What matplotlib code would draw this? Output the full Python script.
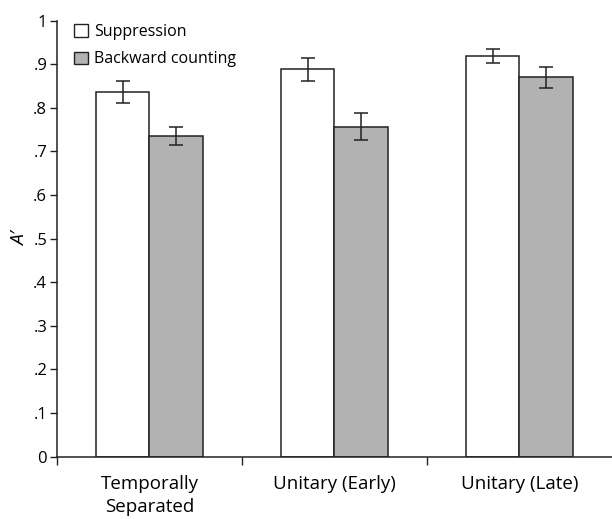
import matplotlib.pyplot as plt
import numpy as np
from matplotlib.patches import Patch

plt.rcParams['font.family'] = ['Open Sans', 'DejaVu Sans']

categories = ['Temporally\nSeparated', 'Unitary (Early)', 'Unitary (Late)']
supp = [0.837, 0.888, 0.918]
supp_err = [0.025, 0.026, 0.016]
back = [0.735, 0.757, 0.870]
back_err = [0.021, 0.030, 0.024]
yticks = [0, .1, .2, .3, .4, .5, .6, .7, .8, .9, 1]
ylabels = ['0', '.1', '.2', '.3', '.4', '.5', '.6', '.7', '.8', '.9', '1']

fig = plt.figure(figsize=(6.12, 5.19), dpi=100)
ax = fig.add_axes([0.093, 0.120, 0.907, 0.8405])

x = np.arange(len(categories))
w = 0.29
ax.bar(x - w/2, supp, w, color='white', edgecolor='#222222', linewidth=1.1,
       yerr=supp_err, capsize=5, error_kw=dict(elinewidth=1.1, capthick=1.1, ecolor='#222222'))
ax.bar(x + w/2, back, w, color='#b2b2b2', edgecolor='#222222', linewidth=1.1,
       yerr=back_err, capsize=5, error_kw=dict(elinewidth=1.1, capthick=1.1, ecolor='#222222'))

ax.set_xlim(-0.5, 2.5)
ax.set_ylim(0, 1)
ax.set_yticks(yticks)
ax.set_yticklabels(ylabels, fontsize=12)
ax.set_xticks(x)
ax.set_xticklabels(categories, fontsize=13.5, linespacing=1.35)
ax.tick_params(axis='x', which='major', length=0, pad=13)
ax.set_xticks([-0.5, 0.5, 1.5], minor=True)
ax.tick_params(axis='x', which='minor', length=6, width=1, direction='out', color='#222222')
ax.tick_params(axis='y', length=5, width=1, direction='out', color='#222222', pad=2)
for s in ['top', 'right']:
    ax.spines[s].set_visible(False)
for s in ['left', 'bottom']:
    ax.spines[s].set_color('#222222')
    ax.spines[s].set_linewidth(1.1)

ax.set_ylabel('A\u2032', fontsize=14, style='italic', labelpad=3)

handles = [Patch(facecolor='white', edgecolor='#222222', label='Suppression'),
           Patch(facecolor='#b2b2b2', edgecolor='#222222', label='Backward counting')]
ax.legend(handles=handles, loc='upper left', bbox_to_anchor=(0.005, 1.025), frameon=False,
          fontsize=11.5, handlelength=0.85, handleheight=0.85, handletextpad=0.4, labelspacing=0.72)

fig.savefig('out.png', dpi=100)
